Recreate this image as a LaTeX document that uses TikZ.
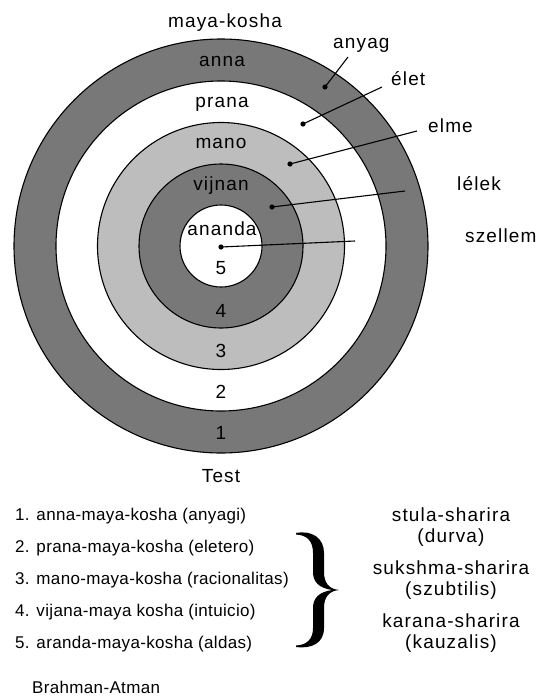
\documentclass[tikz,border=0pt]{standalone}
\usepackage{fontspec}
\setmainfont{Liberation Sans}
\newfontfamily\labfont[LetterSpace=6]{Liberation Sans}
\newfontfamily\listfont[LetterSpace=2]{Liberation Sans}
\definecolor{darkring}{gray}{0.47}
\definecolor{lightring}{gray}{0.74}
\tikzset{
  ring/.style={draw=black, line width=1.1pt},
  lab/.style={font=\labfont\fontsize{19}{19}\selectfont, inner sep=0pt, anchor=base},
  rlab/.style={lab, anchor=base west},
  listitem/.style={font=\listfont\fontsize{17}{17}\selectfont, inner sep=0pt, anchor=base west},
  shar/.style={font=\labfont\fontsize{19}{19}\selectfont, inner sep=0pt, anchor=base},
  conn/.style={line width=1.1pt},
  dotmark/.style={fill=black}
}
\begin{document}
\begin{tikzpicture}[x=1pt,y=-1pt]
\useasboundingbox (0,0) rectangle (540,699);
\coordinate (c) at (221,246);
% rings
\draw[ring, fill=darkring] (c) circle[radius=207];
\draw[ring, fill=white] (c) circle[radius=165];
\draw[ring, fill=lightring] (c) circle[radius=123.5];
\draw[ring, fill=darkring] (c) circle[radius=82];
\draw[ring, fill=white] (c) circle[radius=41];
% ring labels
\node[lab] (mk) at (225,27) {maya-kosha};
\node[lab] (anna) at (222,66) {anna};
\node[lab] (prana) at (222,107) {prana};
\node[lab] (mano) at (221,148) {mano};
\node[lab] (vijnan) at (221,190) {vijnan};
\node[lab] (ananda) at (222,235) {ananda};
\node[lab] (n5) at (221,274) {5};
\node[lab] (n4) at (221,317) {4};
\node[lab] (n3) at (221,357) {3};
\node[lab] (n2) at (221,398) {2};
\node[lab] (n1) at (221,439) {1};
\node[lab] (test) at (221,482) {Test};
% right labels
\node[rlab] (anyag) at (333,48) {anyag};
\node[rlab] (elet) at (391,85) {élet};
\node[rlab] (elme) at (428,132) {elme};
\node[rlab] (lelek) at (457,190) {lélek};
\node[rlab] (szellem) at (465,242) {szellem};
% connector points
\coordinate (d1) at (325,87);
\coordinate (d2) at (303,124);
\coordinate (d3) at (290,164);
\coordinate (d4) at (272,207);
\coordinate (d5) at (221,247);
\coordinate (e1) at (348,57);
\coordinate (e2) at (382,87);
\coordinate (e3) at (417,131);
\coordinate (e4) at (405,191);
\coordinate (e5) at (355,241);
\foreach \i in {1,...,5}{
  \draw[conn] (d\i) -- (e\i);
  \fill[dotmark] (d\i) circle[radius=2.6];
}
% list
\node[listitem] (l1) at (15,520) {1. anna-maya-kosha (anyagi)};
\node[listitem] (l2) at (15,552) {2. prana-maya-kosha (eletero)};
\node[listitem] (l3) at (15,584) {3. mano-maya-kosha (racionalitas)};
\node[listitem] (l4) at (15,616) {4. vijana-maya kosha (intuicio)};
\node[listitem] (l5) at (15,648) {5. aranda-maya-kosha (aldas)};
\node[listitem] (ba) at (32,693) {Brahman-Atman};
% brace
\fill (296,533) .. controls (312,530) and (324,538) .. (324,553)
  -- (324,572) .. controls (324,583) and (329,589) .. (339,590)
  .. controls (329,591) and (324,597) .. (324,608)
  -- (324,628) .. controls (324,643) and (312,649) .. (296,647)
  -- (296,645.5) .. controls (307,645) and (313,639) .. (313,628)
  -- (313,608) .. controls (313,598) and (319,592) .. (332,590)
  .. controls (319,588) and (313,582) .. (313,572)
  -- (313,553) .. controls (313,541) and (307,535) .. (296,534.5) -- cycle;
% sharira
\node[shar] (s1) at (451,521) {stula-sharira};
\node[shar] (s1b) at (451,542) {(durva)};
\node[shar] (s2) at (451,574) {sukshma-sharira};
\node[shar] (s2b) at (451,595) {(szubtilis)};
\node[shar] (s3) at (451,627) {karana-sharira};
\node[shar] (s3b) at (451,648) {(kauzalis)};
\end{tikzpicture}
\end{document}
